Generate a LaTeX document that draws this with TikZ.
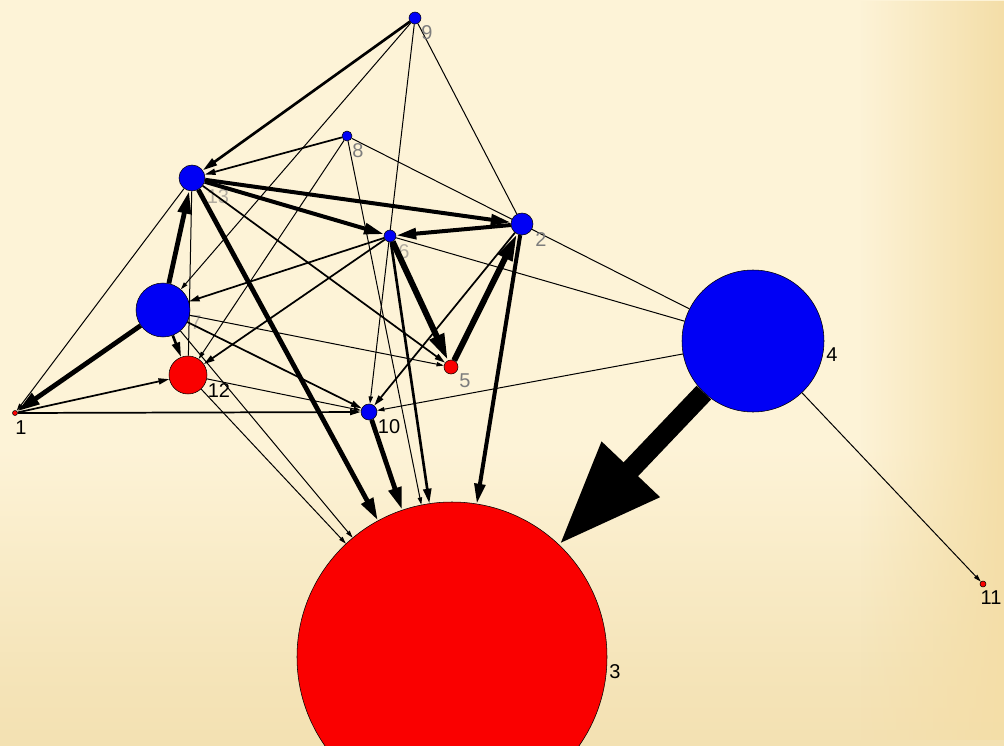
\documentclass[tikz,border=0pt]{standalone}
\usepackage{fontspec}
\newfontfamily\labfont{Liberation Sans}
\usetikzlibrary{arrows.meta,fadings}
\pgfdeclarelayer{bg}
\pgfdeclarelayer{edges}
\pgfsetlayers{bg,edges,main}
\definecolor{cream}{RGB}{253,243,215}
\definecolor{tanR}{RGB}{244,222,168}
\definecolor{tanB}{RGB}{238,216,160}
\definecolor{brownD}{RGB}{110,90,60}
\definecolor{nblue}{RGB}{0,0,245}
\definecolor{nred}{RGB}{250,0,0}
\definecolor{labgray}{RGB}{125,125,125}
\definecolor{labfaint}{RGB}{178,172,160}
\pgfdeclareverticalshading{bgvert}{100bp}{color(0bp)=(brownD); color(1.2bp)=(tanB); color(12bp)=(tanB); color(30bp)=(tanB!55!cream); color(45bp)=(cream); color(100bp)=(cream)}
\tikzfading[name=fadeleft, left color=transparent!100, right color=transparent!0]
\tikzset{
  nd/.style={circle, draw=black, line width=0.4pt, inner sep=0pt},
  bl/.style={nd, fill=nblue},
  rd/.style={nd, fill=nred},
  lab/.style={font=\labfont\fontsize{15}{15}\selectfont, inner sep=0pt},
  glab/.style={lab, text=labgray},
  flab/.style={lab, text=labfaint},
  wf/.style={line width=4.5pt, -{Triangle[length=20pt,width=11pt]}},
  we/.style={line width=3.6pt, -{Triangle[length=17pt,width=9.5pt]}},
  wd/.style={line width=3pt, -{Triangle[length=15pt,width=8pt]}},
  wc/.style={line width=2pt, -{Triangle[length=11pt,width=6pt]}},
  wb/.style={line width=1.3pt, -{Triangle[length=8pt,width=4.5pt]}},
  wa/.style={line width=0.75pt, -{Triangle[length=5.5pt,width=3.2pt]}},
  wp/.style={line width=0.75pt},
  bigarrow/.style={line width=15pt, -{Triangle[length=78pt,width=56pt]}}
}
\begin{document}
\begin{tikzpicture}[x=0.75pt,y=-0.75pt]
\useasboundingbox (0,0) rectangle (1004,746);
\begin{pgfonlayer}{bg}
  \shade[shading=bgvert] (0,0) rectangle (1004,746);
  \fill[tanR, path fading=fadeleft] (860,0) rectangle (1004,740);
  \node[flab] (l13) at (218,197) {13};
  \node[flab] (l7) at (196,323) {7};
  \node[flab] (l6) at (404,252) {6};
\end{pgfonlayer}

% nodes
\node[rd, minimum size=232.5pt] (n3) at (452,657) {};
\node[bl, minimum size=106.5pt] (n4) at (753,341) {};
\node[bl, minimum size=40.5pt] (n7) at (163,310) {};
\node[rd, minimum size=28.5pt] (n12) at (188,375) {};
\node[bl, minimum size=19.5pt] (n13) at (192,178) {};
\node[bl, minimum size=16.5pt] (n2) at (522,224) {};
\node[bl, minimum size=12pt] (n10) at (369,412) {};
\node[rd, minimum size=10.5pt] (n5) at (451,367) {};
\node[bl, minimum size=9pt] (n6) at (390,236) {};
\node[bl, minimum size=9pt] (n9) at (415,18) {};
\node[bl, minimum size=7.5pt] (n8) at (347,136) {};
\node[rd, minimum size=4.5pt] (n11) at (983,584) {};
\node[rd, minimum size=3.75pt] (n1) at (15,413) {};

% labels
\node[lab] (l1) at (21,428) {1};
\node[glab] (l2) at (541,240) {2};
\node[lab] (l3) at (615,672) {3};
\node[lab] (l4) at (832,355) {4};
\node[glab] (l5) at (465,381) {5};
\node[glab] (l8) at (358,151) {8};
\node[glab] (l9) at (427,33) {9};
\node[lab] (l10) at (389,427) {10};
\node[lab] (l11) at (991,598) {11};
\node[lab] (l12) at (219,391) {12};

\begin{pgfonlayer}{edges}
  % thin, no visible head
  \draw[wp] (n9) -- (n2);
  \draw[wp] (n8) -- (n4);
  \draw[wp] (n6) -- (n4);
  \draw[wp] (n13) -- (n12);
  % thin with head
  \draw[wa] (n9) -- (n7);
  \draw[wa] (n9) -- (n10);
  \draw[wa] (n8) -- (n12);
  \draw[wa] (n8) -- (n3);
  \draw[wa] (n4) -- (n10);
  \draw[wa] (n12) -- (n10);
  \draw[wa] (n12) -- (n3);
  \draw[wa] (n7) -- (n3);
  \draw[wa] (n7) -- (n5);
  \draw[wa] (n13) -- (n1);
  \draw[wa] (n4) -- (n11);
  % medium-thin
  \draw[wb] (n8) -- (n13);
  \draw[wb] (n13) -- (n5);
  \draw[wb] (n6) -- (n7);
  \draw[wb] (n6) -- (n12);
  \draw[wb] (n7) -- (n10);
  \draw[wb] (n1) -- (n12);
  \draw[wb] (n1) -- (n10);
  \draw[wb] (n2) -- (n10);
  % medium
  \draw[wc] (n9) -- (n13);
  \draw[wc] (n6) -- (n3);
  \draw[wc] (n7) -- (n12);
  % thick
  \draw[wd] (n2) -- (n3);
  \draw[wd] (n13) -- (n2);
  \draw[wd] (n2) -- (n6);
  \draw[wd] (n13) -- (n6);
  \draw[we] (n7) -- (n13);
  \draw[we] (n7) -- (n1);
  \draw[we] (n13) -- (n3);
  \draw[we] (n10) -- (n3);
  \draw[wf] (n6) -- (n5);
  \draw[wf] (n5) -- (n2);
  % heaviest
  \draw[bigarrow] (n4) -- (n3);
\end{pgfonlayer}
\end{tikzpicture}
\end{document}
